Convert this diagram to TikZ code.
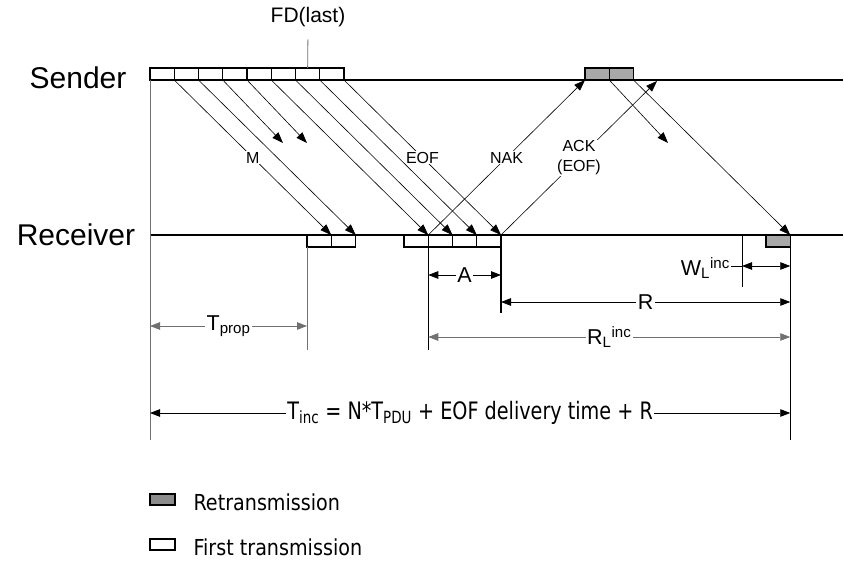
\documentclass[tikz,border=0pt]{standalone}
\usepackage{fontspec}
\setmainfont{Liberation Sans}
\newfontfamily\legendfont[FakeStretch=0.87]{DejaVu Sans}
\newfontfamily\formulafont[FakeStretch=0.8]{DejaVu Sans}
\usepackage{tikz}
\usetikzlibrary{arrows.meta}
\usepackage{xcolor}
\definecolor{retxgray}{HTML}{A8A8A8}
\definecolor{keygray}{HTML}{8C8C8C}
\definecolor{dimgray}{HTML}{707070}

\tikzset{
  pdu/.style={draw, line width=1.2pt, minimum width=24.25pt, minimum height=12pt,
    inner sep=0pt, outer sep=0pt},
  retx/.style={pdu, fill=retxgray},
  side/.style={font=\fontsize{30}{34}\selectfont},
  timeline/.style={line width=1.3pt},
  msg/.style={-{Triangle[length=11pt,width=8pt]}, line width=0.6pt},
  guide/.style={line width=0.8pt},
  dimline/.style={{Triangle[length=10pt,width=7.5pt]}-{Triangle[length=10pt,width=7.5pt]}, line width=0.8pt},
  lbl/.style={font=\fontsize{16}{20}\selectfont, fill=white, inner sep=1pt},
  dimlbl/.style={font=\fontsize{21.5}{24}\selectfont, fill=white, inner sep=1.5pt},
  keytext/.style={font=\legendfont\fontsize{22}{24}\selectfont, anchor=west},
}

\begin{document}
\begin{tikzpicture}[x=1pt,y=-1pt]
  \useasboundingbox (0,0) rectangle (844,567);
  % time lines
  \node[side] (sender) at (78,78) {Sender};
  \node[side] (receiver) at (76,235) {Receiver};
  \coordinate (send end) at (843,80);
  \coordinate (recv start) at (150,235);
  \coordinate (recv end) at (843,235);
  \draw[timeline] (150,80) -- (send end);
  \draw[timeline] (recv start) -- (recv end);

  % PDUs at the sender
  \foreach \i in {1,...,8}
    \node[pdu, anchor=south west] (s\i) at ({150+(\i-1)*24.25},80) {};
  \node[retx, anchor=south west] (t1) at (585,80) {};
  \node[retx, anchor=south west] (t2) at (609.25,80) {};
  \node[font=\fontsize{21}{24}\selectfont] (fdlast) at (308,17) {FD(last)};
  \draw[guide, dimgray, shorten <=9pt] (fdlast.south) -- (s7.north);

  % PDUs at the receiver
  \node[pdu, anchor=north west] (r1) at (307,235) {};
  \node[pdu, anchor=north west] (r2) at (331.5,235) {};
  \foreach \i in {1,...,4}
    \node[pdu, anchor=north west] (q\i) at ({404+(\i-1)*24.25},235) {};
  \node[retx, anchor=north west] (u1) at (766,235) {};

  % lost PDUs and the late ACK
  \coordinate (lost3) at (283,143);
  \coordinate (lost4) at (307,143);
  \coordinate (lost9) at (668,143);
  \coordinate (ackend) at (657,81);

  % messages
  \draw[msg] (s1.south east) -- node[lbl]{M} (r1.north east);
  \draw[msg] (s8.south east) -- node[lbl]{EOF} (q4.north east);
  \draw[msg] (q1.north east) -- node[lbl]{NAK} (t1.south west);
  \draw[msg] (q4.north east) -- node[lbl, align=center]{ACK\\(EOF)} (ackend);
  \draw[msg] (s2.south east) -- (r2.north east);
  \draw[msg] (s3.south east) -- (lost3);
  \draw[msg] (s4.south east) -- (lost4);
  \foreach \i/\j in {5/1,6/2,7/3}
    \draw[msg] (s\i.south east) -- (q\j.north east);
  \draw[msg] (t1.south east) -- (lost9);
  \draw[msg] (t2.south east) -- (u1.north east);

  % guides
  \draw[guide, dimgray] (150,80) -- (150,440);
  \draw[guide, dimgray] (r1.south west) -- (307,350);
  \draw[guide] (q1.south east) -- (428.25,350);
  \draw[guide, line width=1.3pt] (q4.south east) -- (501,313);
  \draw[guide] (u1.south east) -- (790.25,440);
  \draw[guide] (742,235) -- (742,287);

  % dimensions
  \coordinate (tp0) at (150,326);  \coordinate (tp1) at (307,326);
  \coordinate (a0) at (428.25,275); \coordinate (a1) at (501,275);
  \coordinate (w0) at (742,266);   \coordinate (w1) at (790.25,266);
  \coordinate (rr0) at (501,302);  \coordinate (rr1) at (790.25,302);
  \coordinate (rl0) at (428.25,337); \coordinate (rl1) at (790.25,337);
  \coordinate (ti0) at (150,413);  \coordinate (ti1) at (790.25,413);
  \draw[dimline, dimgray] (tp0) -- node[dimlbl, text=black]{T\textsubscript{prop}} (tp1);
  \draw[dimline] (a0) -- node[dimlbl]{A} (a1);
  \draw[dimline] (w0) -- (w1);
  \node[dimlbl, anchor=east, inner sep=1pt] (wlbl) at (731,268) {W\textsubscript{L}\textsuperscript{inc}};
  \draw[guide] (wlbl.east |- w0) -- (w0);
  \draw[dimline] (rr0) -- node[dimlbl]{R} (rr1);
  \draw[dimline, dimgray] (rl0) -- node[dimlbl, text=black]{R\textsubscript{L}\textsuperscript{inc}} (rl1);
  \draw[dimline] (ti0) -- node[dimlbl, font=\formulafont\fontsize{24}{26}\selectfont]
    {T\textsubscript{inc} = N*T\textsubscript{PDU} + EOF delivery time + R} (ti1);

  % legend
  \node[pdu, fill=keygray, minimum width=25pt, minimum height=11pt, anchor=west] (keyretx) at (150,499.5) {};
  \node[keytext] (keyretxtext) at (190,502) {Retransmission};
  \node[pdu, minimum width=25pt, minimum height=11pt, anchor=west] (keyfirst) at (150,544.5) {};
  \node[keytext] (keyfirsttext) at (190,547) {First transmission};
\end{tikzpicture}
\end{document}
